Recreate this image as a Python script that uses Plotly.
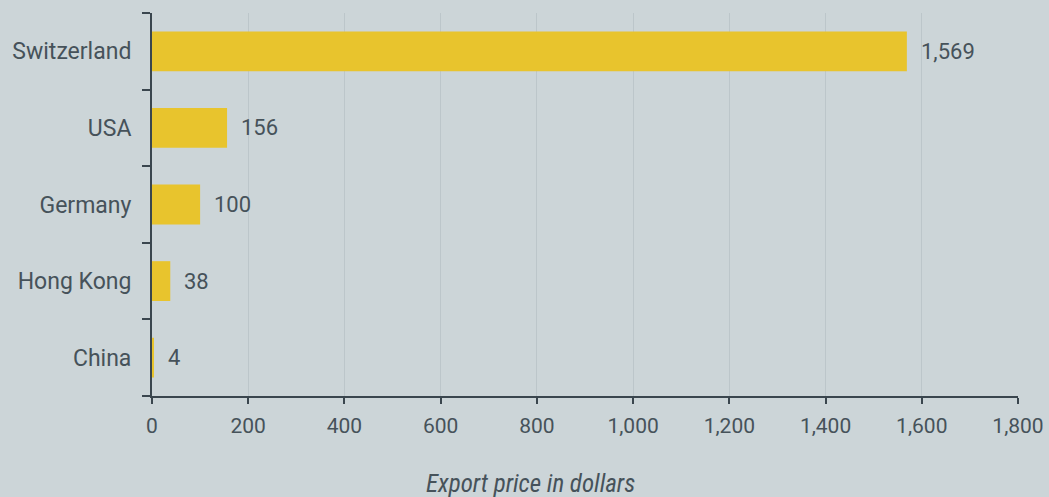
import plotly.graph_objects as go

countries = ["Switzerland", "USA", "Germany", "Hong Kong", "China"]
prices = [1569, 156, 100, 38, 4]
x_ticks = [0, 200, 400, 600, 800, 1000, 1200, 1400, 1600, 1800]
x_tick_labels = ["0", "200", "400", "600", "800", "1,000", "1,200", "1,400", "1,600", "1,800"]

BG = "#ccd5d8"
TXT = "#46525a"
AXIS = "#3a464e"

fig = go.Figure()
fig.add_trace(go.Bar(
    x=prices, y=countries, orientation="h",
    marker=dict(color="#e8c42d", line=dict(width=0)),
    hoverinfo="skip",
))

for c, v in zip(countries, prices):
    fig.add_annotation(
        x=v, y=c, text=f"{v:,}", showarrow=False,
        xanchor="left", yanchor="middle", xshift=12,
        font=dict(family="Roboto", size=22, color=TXT),
    )

fig.add_annotation(
    x=0.4376, y=0, xref="paper", yref="paper", yanchor="middle", yshift=-87,
    text="<i>Export price in dollars</i>", showarrow=False,
    font=dict(family="Liberation Sans Narrow, Arial Narrow, Roboto Condensed, Roboto", size=25, color=TXT),
)

fig.update_layout(
    width=1049, height=497,
    margin=dict(l=152, r=31, t=13, b=101, autoexpand=False),
    paper_bgcolor=BG, plot_bgcolor=BG,
    bargap=0.48,
    showlegend=False,
    font=dict(family="Roboto", color=TXT),
)
fig.update_xaxes(
    range=[0, 1800], tickvals=x_ticks, ticktext=x_tick_labels,
    showgrid=True, gridcolor="#bcc6ca", gridwidth=1,
    showline=True, linecolor=AXIS, linewidth=2,
    ticks="outside", ticklen=6, tickcolor=AXIS, tickwidth=1.5,
    ticklabelstandoff=4, automargin=False,
    tickfont=dict(family="Roboto", size=21, color=TXT),
    zeroline=False, fixedrange=True,
)
fig.update_yaxes(
    categoryorder="array", categoryarray=countries[::-1],
    showline=True, linecolor=AXIS, linewidth=2,
    ticks="outside", ticklen=8, tickcolor=AXIS, tickwidth=1.5,
    tickson="boundaries", ticklabelstandoff=14, automargin=False,
    tickfont=dict(family="Roboto", size=23, color=TXT),
    showgrid=False, zeroline=False, fixedrange=True,
)

fig.write_html("out.html", config={"displayModeBar": False})
